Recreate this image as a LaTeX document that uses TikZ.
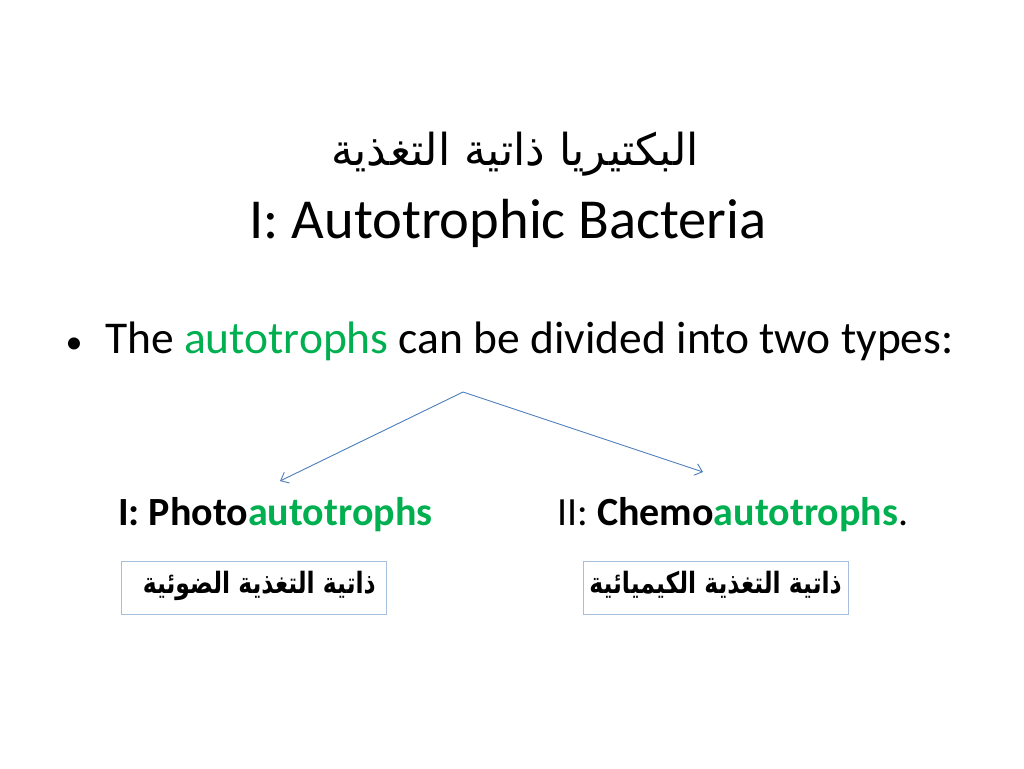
\documentclass[tikz,border=0pt]{standalone}
\usepackage{fontspec}
\setmainfont{Carlito}
\newfontfamily\arabicfont[Script=Arabic]{DejaVu Sans}
\TeXXeTstate=1
\usetikzlibrary{arrows.meta}
\definecolor{autogreen}{HTML}{00B050}
\definecolor{arrowblue}{HTML}{4A7EBB}
\definecolor{boxblue}{HTML}{A7BFDE}
\tikzset{
    branch/.style={draw=arrowblue, line width=0.9pt, -{Straight Barb[length=7pt, width=12pt]}},
    arabicbox/.style={draw=boxblue, line width=0.9pt, minimum width=265pt, minimum height=53pt, inner sep=0pt}
}
\begin{document}
\begin{tikzpicture}[x=1pt, y=-1pt]
            \useasboundingbox [fill=white] (0, 0) rectangle (1024, 768);
            \node [anchor=base] (titlear) at (515, 165) {\fontsize{44}{52}\selectfont\arabicfont\beginR البكتيريا ذاتية التغذية\endR};
            \node [anchor=base] (titleen) at (508, 238) {\fontsize{56.5}{68}\selectfont I: Autotrophic Bacteria};
            \node [anchor=base] (dot) at (74, 353) {\fontsize{34}{40}\selectfont •};
            \node [anchor=base west, inner sep=0pt] (bullet) at (105, 353) {\fontsize{45.5}{54}\selectfont The \textcolor{autogreen}{autotrophs} can be divided into two types:};
            \coordinate (apex) at (463, 392);
            \coordinate (photoend) at (280, 481);
            \coordinate (chemoend) at (703, 472);
            \draw [branch] (apex) -- (photoend);
            \draw [branch] (apex) -- (chemoend);
            \node [anchor=base west, inner sep=0pt] (photo) at (118, 525) {\fontsize{40}{48}\selectfont\bfseries I: Photo\textcolor{autogreen}{autotrophs}};
            \node [anchor=base west, inner sep=0pt] (chemo) at (557, 525) {\fontsize{40}{48}\selectfont II: \textbf{Chemo\textcolor{autogreen}{autotrophs}}.};
            \node [arabicbox] (photobox) at (253.5, 587.5) {};
            \node [arabicbox] (chemobox) at (715.5, 587.5) {};
            \node [anchor=base east, inner sep=0pt] (photoar) at (376, 593) {\scalebox{1}[1.25]{\fontsize{23.5}{30}\selectfont\arabicfont\bfseries\beginR ذاتية التغذية الضوئية\endR}};
            \node [anchor=base east, inner sep=0pt] (chemoar) at (842, 593) {\scalebox{1}[1.25]{\fontsize{23.5}{30}\selectfont\arabicfont\bfseries\beginR ذاتية التغذية الكيميائية\endR}};
        \end{tikzpicture}
\end{document}
